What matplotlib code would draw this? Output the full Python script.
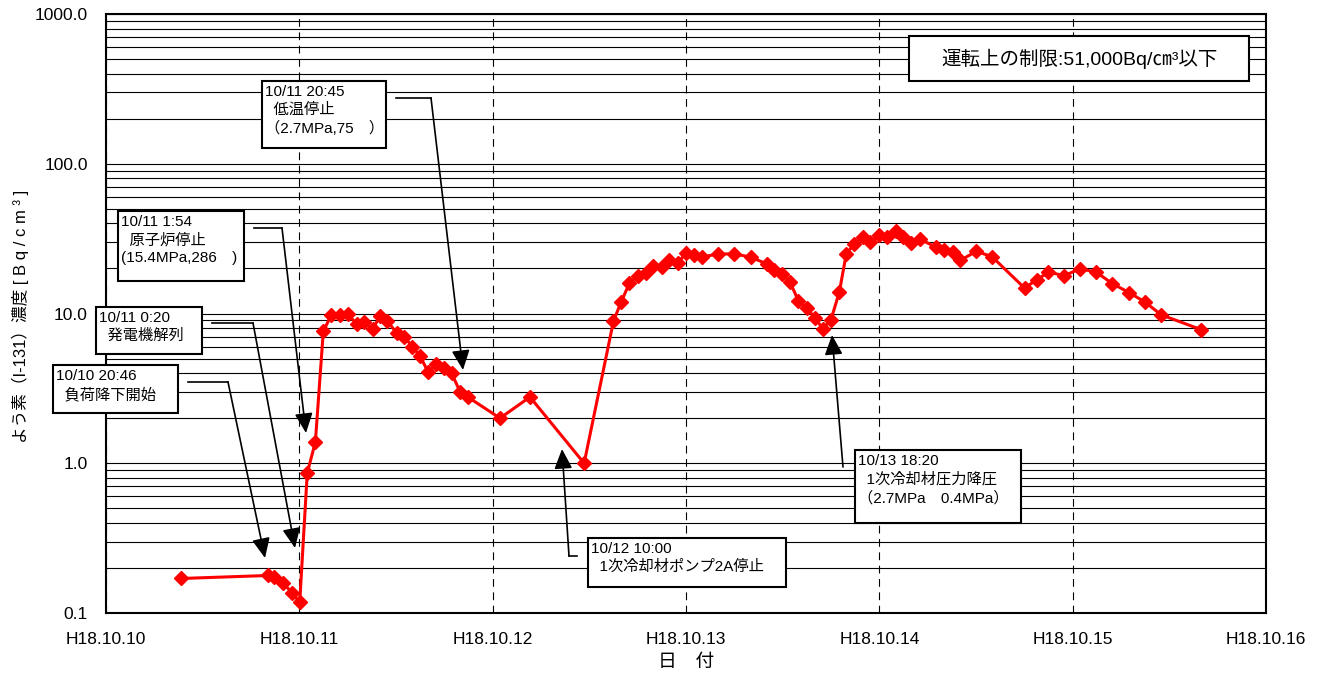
import numpy as np
import matplotlib
matplotlib.use("Agg")
import matplotlib.pyplot as plt
from matplotlib import patches as pc
from matplotlib.lines import Line2D
from matplotlib.ticker import FixedLocator, LogLocator, NullFormatter

W, H = 1326, 680

# 日付 (10月の日 + 時刻の小数)
days = [10.388, 10.836, 10.869, 10.917, 10.961, 11.002, 11.041, 11.083, 11.124, 11.164,
        11.211, 11.252, 11.297, 11.336, 11.380, 11.417, 11.455, 11.504, 11.542, 11.585,
        11.624, 11.667, 11.709, 11.750, 11.788, 11.831, 11.871, 12.038, 12.193, 12.473,
        12.625, 12.664, 12.707, 12.750, 12.792, 12.831, 12.874, 12.914, 12.957, 13.000,
        13.041, 13.081, 13.167, 13.249, 13.335, 13.418, 13.457, 13.499, 13.538, 13.581,
        13.625, 13.668, 13.708, 13.750, 13.793, 13.829, 13.868, 13.914, 13.954, 13.998,
        14.041, 14.084, 14.123, 14.166, 14.211, 14.294, 14.337, 14.380, 14.418, 14.501,
        14.582, 14.751, 14.815, 14.875, 14.956, 15.039, 15.122, 15.206, 15.292, 15.375,
        15.458, 15.665]
# よう素(I-131)濃度 [Bq/cm3]
conc = [0.17, 0.178, 0.174, 0.158, 0.137, 0.118, 0.86, 1.39, 7.6, 9.7,
        9.7, 9.85, 8.5, 8.75, 7.9, 9.6, 8.9, 7.4, 7.0, 6.0,
        5.2, 4.05, 4.6, 4.3, 4.0, 3.0, 2.77, 2.0, 2.77, 1.0,
        8.9, 11.9, 15.9, 17.9, 18.7, 20.9, 20.4, 22.8, 21.6, 25.4,
        24.6, 23.8, 25.0, 25.0, 23.8, 21.4, 19.4, 18.4, 16.2, 12.2,
        10.9, 9.3, 7.9, 9.1, 13.9, 25.0, 29.0, 32.2, 30.0, 33.3,
        32.6, 35.5, 32.3, 29.6, 31.3, 27.7, 26.6, 25.6, 22.6, 26.0,
        24.0, 14.8, 16.8, 18.9, 17.9, 19.9, 18.9, 15.8, 13.8, 11.9,
        9.8, 7.8]

x_ticks = [10, 11, 12, 13, 14, 15, 16]
x_labels = ["H18.10.10", "H18.10.11", "H18.10.12", "H18.10.13",
            "H18.10.14", "H18.10.15", "H18.10.16"]
y_ticks = [0.1, 1, 10, 100, 1000]
y_labels = ["0.1", "1.0", "10.0", "100.0", "1000.0"]

FONT = ["Liberation Sans", "Noto Sans CJK JP", "DejaVu Sans"]
plt.rcParams["font.family"] = FONT


def fp(x, y):
    # 画像のピクセル座標 -> figure座標
    return (x / W, 1 - y / H)


fig = plt.figure(figsize=(W / 100, H / 100), dpi=100)
ax = fig.add_axes([106 / W, 1 - 613 / H, (1266 - 106) / W, (613 - 14) / H])

ax.set_yscale("log")
ax.set_xlim(10, 16)
ax.set_ylim(0.1, 1000)

# グリッド
ax.yaxis.set_major_locator(FixedLocator(y_ticks))
ax.yaxis.set_minor_locator(LogLocator(base=10, subs=np.arange(2, 10), numticks=20))
ax.yaxis.set_minor_formatter(NullFormatter())
ax.set_yticklabels(y_labels)
ax.set_xticks(x_ticks)
ax.set_xticklabels(x_labels)
ax.grid(True, axis="y", which="both", color="black", linewidth=0.8)
ax.grid(True, axis="x", which="major", color="black", linewidth=0.8,
        linestyle=(0, (7, 5)))
ax.tick_params(which="both", length=0, labelsize=12.5)
ax.tick_params(axis="x", pad=14)
ax.tick_params(axis="y", pad=13)
for s in ax.spines.values():
    s.set_linewidth(1.5)

ax.plot(days, conc, color="#ff0000", linewidth=2.2, marker="D", markersize=7.5,
        zorder=5, clip_on=False)

ax.set_xlabel("日　付", fontsize=13.5, labelpad=5)
fig.text(20 / W, 1 - 316 / H, "よう素（I-131）濃度 [ B q / c m ³ ]", rotation=90,
         fontsize=12, ha="center", va="center")

# 注記ボックス
notes = [
    ((262, 81, 386, 148), "10/11 20:45\n  低温停止\n（2.7MPa,75　）",
     [(396, 98), (431, 98)], (463, 370)),
    ((118, 211, 244, 281), "10/11 1:54\n  原子炉停止\n(15.4MPa,286　)",
     [(254, 228), (282, 228)], (306, 433)),
    ((96, 307, 202, 354), "10/11 0:20\n  発電機解列",
     [(212, 323), (253, 323)], (295, 548)),
    ((53, 365, 178, 413), "10/10 20:46\n  負荷降下開始",
     [(188, 382), (228, 382)], (265, 558)),
    ((588, 538, 786, 587), "10/12 10:00\n  1次冷却材ポンプ2A停止",
     [(577, 556), (569, 556)], (562, 449)),
    ((855, 450, 1021, 523), "10/13 18:20\n  1次冷却材圧力降圧\n（2.7MPa　0.4MPa）",
     [(843, 467)], (832, 335)),
]
for (x0, y0, x1, y1), txt, pts, head in notes:
    fig.patches.append(pc.Rectangle(fp(x0, y1), (x1 - x0) / W, (y1 - y0) / H,
                                    transform=fig.transFigure, facecolor="white",
                                    edgecolor="black", linewidth=1.5, zorder=6))
    fig.text(*fp(x0 + 3, y0 + 4), txt, fontsize=11, ha="left", va="top",
             linespacing=1.35, zorder=7)
    if len(pts) > 1:
        xs = [p[0] / W for p in pts]
        ys = [1 - p[1] / H for p in pts]
        fig.lines.append(Line2D(xs, ys, transform=fig.transFigure, color="black",
                                linewidth=1.2, zorder=6))
    fig.patches.append(pc.FancyArrowPatch(fp(*pts[-1]), fp(*head),
                                          transform=fig.transFigure,
                                          arrowstyle="-|>,head_length=0.55,head_width=0.25",
                                          mutation_scale=22, color="black",
                                          linewidth=1.2, shrinkA=0, shrinkB=0,
                                          zorder=6))

# 運転上の制限
fig.patches.append(pc.Rectangle(fp(909, 81), (1249 - 909) / W, (81 - 36) / H,
                                transform=fig.transFigure, facecolor="white",
                                edgecolor="black", linewidth=1.5, zorder=6))
fig.text(*fp(1079, 59), "運転上の制限:51,000Bq/㎝³以下", fontsize=14,
         ha="center", va="center", zorder=7)

fig.savefig("out.png", dpi=100)
